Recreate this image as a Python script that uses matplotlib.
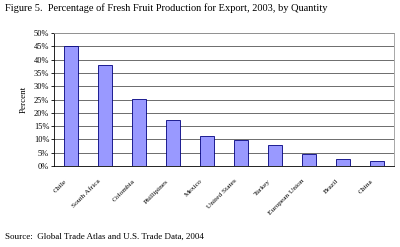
import matplotlib.pyplot as plt
import matplotlib.transforms as mtransforms
import numpy as np

plt.rcParams['font.family'] = ['Liberation Serif', 'DejaVu Serif']

countries = ['Chile', 'South Africa', 'Colombia', 'Phillipines', 'Mexico',
             'United States', 'Turkey', 'European Union', 'Brazil', 'China']
percent = [45.2, 38.1, 25.3, 17.3, 11.2, 9.8, 7.9, 4.5, 2.5, 1.9]
yticks = [0, 5, 10, 15, 20, 25, 30, 35, 40, 45, 50]

fig = plt.figure(figsize=(4, 2.47), dpi=100)
ax = fig.add_axes([0.135, 0.328, 0.85, 0.538])

x = np.arange(len(countries))
ax.bar(x, percent, width=0.4, color='#9999ff', edgecolor='#000080',
       linewidth=0.6, zorder=3)

ax.set_ylim(0, 50)
ax.set_xlim(-0.5, len(countries) - 0.5)
ax.set_yticks(yticks)
ax.set_yticklabels([f'{v}%' for v in yticks], fontsize=6)
ax.yaxis.grid(True, color='#555555', linewidth=0.6, zorder=0)
ax.set_xticks(x)
ax.set_xticklabels(countries, rotation=45, ha='right', rotation_mode='anchor',
                   fontsize=5.3)
ax.tick_params(axis='x', length=0, pad=9)
ax.tick_params(axis='y', length=2, width=0.6, pad=1.5)

# nudge rotated labels to the left like the original
shift = mtransforms.ScaledTranslation(-7 / 100, 0, fig.dpi_scale_trans)
for lbl in ax.get_xticklabels():
    lbl.set_transform(lbl.get_transform() + shift)

for s in ['top', 'right']:
    ax.spines[s].set_color('#999999')
    ax.spines[s].set_linewidth(0.6)
for s in ['left', 'bottom']:
    ax.spines[s].set_color('black')
    ax.spines[s].set_linewidth(0.6)

ax.set_ylabel('Percent', fontsize=6.5, labelpad=4)

fig.text(0.012, 0.965, 'Figure 5.  Percentage of Fresh Fruit Production for Export, 2003, by Quantity',
         fontsize=7.5, va='center', ha='left')
fig.text(0.012, 0.04, 'Source:  Global Trade Atlas and U.S. Trade Data, 2004',
         fontsize=6.5, va='center', ha='left')

fig.savefig('out.png', dpi=100)
